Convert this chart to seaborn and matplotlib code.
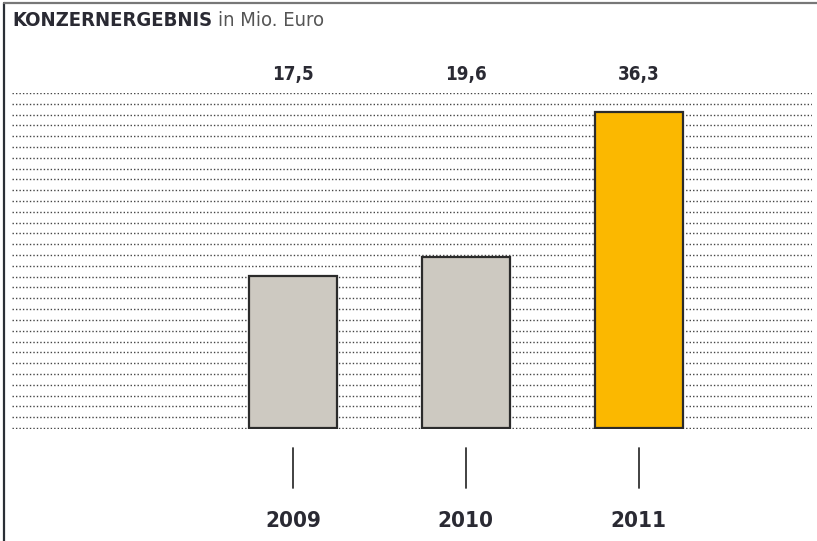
import matplotlib
matplotlib.use("Agg")
import matplotlib.pyplot as plt
import matplotlib.transforms as mtransforms
from matplotlib.lines import Line2D
import seaborn as sns
import pandas as pd

# Daten
jahre = ["2009", "2010", "2011"]
ergebnis = [17.5, 19.6, 36.3]
labels = ["17,5", "19,6", "36,3"]
farben = ["#cdc9c1", "#cdc9c1", "#fbb800"]

sns.set_style("white")
plt.rcParams["font.family"] = ["DejaVu Sans"]

df = pd.DataFrame({"jahr": jahre, "wert": ergebnis})

W, H = 817, 541
fig = plt.figure(figsize=(W / 100, H / 100), dpi=100)
# Achse: x 12..812 px, y 93..428 px
ax = fig.add_axes([12 / W, (H - 429) / H, 800 / W, 336 / H])

sns.barplot(data=df, x="jahr", y="wert", hue="jahr", palette=farben,
            saturation=1, legend=False, width=0.51, edgecolor="#2b2b2b",
            linewidth=1.6, ax=ax, zorder=3)

ytop = 38.5
n_lines = 32
for i in range(n_lines):
    ax.axhline(ytop * i / (n_lines - 1), color="#444444", lw=1.0,
               ls=(0, (1, 1.5)), zorder=1)

ax.set_ylim(-0.12, ytop)
ax.set_xlim(-1.627, 3.004)
ax.set_xticks([])
ax.set_yticks([])
ax.set_xlabel("")
ax.set_ylabel("")
for s in ax.spines.values():
    s.set_visible(False)

trans = mtransforms.blended_transform_factory(ax.transData, ax.transAxes)
for i, (j, lab) in enumerate(zip(jahre, labels)):
    ax.text(i, 1.054, lab, transform=trans, ha="center", va="center",
            fontsize=13.5, fontweight="bold", color="#2a2a33",
            fontstretch="condensed")
    ax.text(i, -0.275, j, transform=trans, ha="center", va="center",
            fontsize=16, fontweight="bold", color="#2a2a33",
            fontstretch="condensed")
    ax.add_line(Line2D([i, i], [-0.057, -0.176], transform=trans,
                       color="#333333", lw=1.3, clip_on=False))

# Titel
t1 = fig.text(12 / W, 1 - 21 / H, "KONZERNERGEBNIS", ha="left", va="center",
              fontsize=14.5, fontweight="bold", color="#2a2a33",
              fontstretch="condensed")
fig.canvas.draw()
bb = t1.get_window_extent()
fig.text((bb.x1 + 6) / W, 1 - 21 / H, "in Mio. Euro", ha="left", va="center",
         fontsize=14.5, color="#555555", fontstretch="condensed")

# Rahmen
fig.add_artist(Line2D([4 / W, 4 / W], [0, 1 - 3 / H], color="#2a2f36", lw=1.6))
fig.add_artist(Line2D([4 / W, 1], [1 - 3 / H, 1 - 3 / H], color="#777777", lw=1.6))

fig.savefig("out.png", dpi=100)
